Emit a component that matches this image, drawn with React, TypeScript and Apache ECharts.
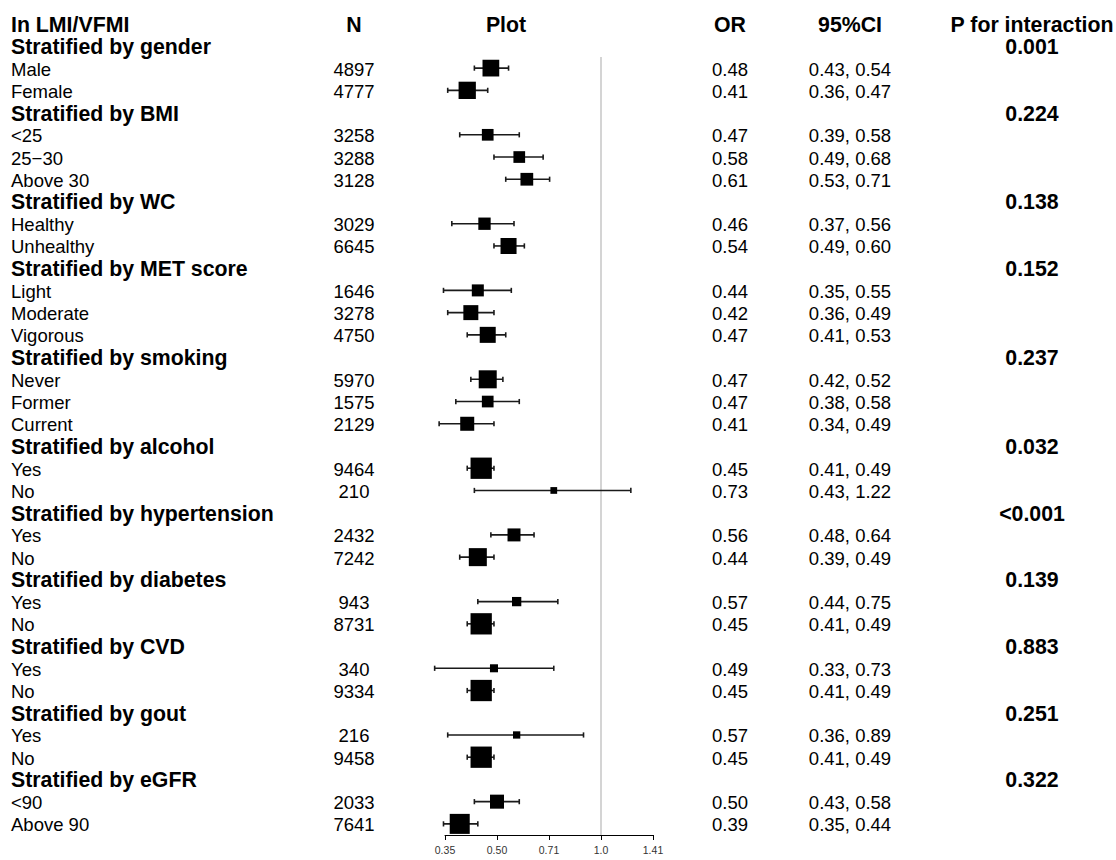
import React, { useEffect, useRef } from "react";
import * as echarts from "echarts";

// ---------- data ----------
const headerLabels = ["In LMI/VFMI", "N", "Plot", "OR", "95%CI", "P for interaction"];

const rowLabels = [
  "Stratified by gender", "Male", "Female",
  "Stratified by BMI", "<25", "25\u221230", "Above 30",
  "Stratified by WC", "Healthy", "Unhealthy",
  "Stratified by MET score", "Light", "Moderate", "Vigorous",
  "Stratified by smoking", "Never", "Former", "Current",
  "Stratified by alcohol", "Yes", "No",
  "Stratified by hypertension", "Yes", "No",
  "Stratified by diabetes", "Yes", "No",
  "Stratified by CVD", "Yes", "No",
  "Stratified by gout", "Yes", "No",
  "Stratified by eGFR", "<90", "Above 90",
];

const sampleN = [
  null, 4897, 4777,
  null, 3258, 3288, 3128,
  null, 3029, 6645,
  null, 1646, 3278, 4750,
  null, 5970, 1575, 2129,
  null, 9464, 210,
  null, 2432, 7242,
  null, 943, 8731,
  null, 340, 9334,
  null, 216, 9458,
  null, 2033, 7641,
];

const oddsRatio = [
  null, 0.48, 0.41,
  null, 0.47, 0.58, 0.61,
  null, 0.46, 0.54,
  null, 0.44, 0.42, 0.47,
  null, 0.47, 0.47, 0.41,
  null, 0.45, 0.73,
  null, 0.56, 0.44,
  null, 0.57, 0.45,
  null, 0.49, 0.45,
  null, 0.57, 0.45,
  null, 0.50, 0.39,
];

const ciLower = [
  null, 0.43, 0.36,
  null, 0.39, 0.49, 0.53,
  null, 0.37, 0.49,
  null, 0.35, 0.36, 0.41,
  null, 0.42, 0.38, 0.34,
  null, 0.41, 0.43,
  null, 0.48, 0.39,
  null, 0.44, 0.41,
  null, 0.33, 0.41,
  null, 0.36, 0.41,
  null, 0.43, 0.35,
];

const ciUpper = [
  null, 0.54, 0.47,
  null, 0.58, 0.68, 0.71,
  null, 0.56, 0.60,
  null, 0.55, 0.49, 0.53,
  null, 0.52, 0.58, 0.49,
  null, 0.49, 1.22,
  null, 0.64, 0.49,
  null, 0.75, 0.49,
  null, 0.73, 0.49,
  null, 0.89, 0.49,
  null, 0.58, 0.44,
];

// precision weight (approx. 1/SE) that sets the box size
const boxWeight = [
  null, 16.3, 17.0,
  null, 10.0, 10.0, 11.3,
  null, 10.8, 15.4,
  null, 10.4, 14.1, 15.4,
  null, 17.9, 10.0, 12.9,
  null, 22.0, 3.8,
  null, 11.6, 17.9,
  null, 7.0, 22.0,
  null, 5.4, 22.0,
  null, 4.5, 22.0,
  null, 12.9, 20.4,
];

const pInteraction = [
  "0.001", null, null,
  "0.224", null, null, null,
  "0.138", null, null,
  "0.152", null, null, null,
  "0.237", null, null, null,
  "0.032", null, null,
  "<0.001", null, null,
  "0.139", null, null,
  "0.883", null, null,
  "0.251", null, null,
  "0.322", null, null,
];

const axisTickLabels = ["0.35", "0.50", "0.71", "1.0", "1.41"];
const referenceOR = 1;

// ---------- layout ----------
const FONT = "'Liberation Sans', Arial, Helvetica, sans-serif";
const COL_LABEL = 11;
const COL_N = 354;
const COL_PLOT = 506;
const COL_OR = 730;
const COL_CI = 850;
const COL_P = 1032;
const REG = 18.5;
const BOLD = 21.3;
const TEXT_DY = 1;

const fmt2 = (v: number) => v.toFixed(2);

export default function App() {
  const ref = useRef<HTMLDivElement>(null);

  useEffect(() => {
    if (!ref.current) return;
    const chart = echarts.init(ref.current, null, { renderer: "svg" });

    const forestData: any[] = [];
    rowLabels.forEach((_, i) => {
      const or = oddsRatio[i];
      if (or == null) return;
      forestData.push([
        Math.log2(or),
        i,
        Math.log2(ciLower[i] as number),
        Math.log2(ciUpper[i] as number),
        boxWeight[i],
      ]);
    });

    const textData: any[] = [[0, -1]];
    rowLabels.forEach((_, i) => textData.push([0, i]));

    const txt = (
      text: string,
      x: number,
      y: number,
      align: string,
      bold: boolean
    ) => ({
      type: "text",
      x,
      y: y + TEXT_DY,
      style: {
        text,
        fill: "#000",
        fontFamily: FONT,
        fontSize: bold ? BOLD : REG,
        fontWeight: bold ? "bold" : "normal",
        align,
        verticalAlign: "middle",
      },
    });

    chart.setOption({
      animation: false,
      backgroundColor: "#fff",
      grid: { left: 445, right: 463, top: 57, bottom: 25, containLabel: false },
      xAxis: {
        type: "value",
        min: -1.5,
        max: 0.5,
        interval: 0.5,
        axisLine: { show: true, onZero: false, lineStyle: { color: "#000", width: 1 } },
        axisTick: { show: true, length: 5, lineStyle: { color: "#000", width: 1 } },
        splitLine: { show: false },
        axisLabel: {
          fontSize: 10.5,
          color: "#333",
          fontFamily: FONT,
          margin: 9,
          formatter: (v: number) => axisTickLabels[Math.round((v + 1.5) / 0.5)] ?? "",
        },
      },
      yAxis: {
        type: "value",
        inverse: true,
        min: 0.5,
        max: 35.5,
        show: false,
      },
      series: [
        {
          type: "custom",
          clip: false,
          data: forestData,
          encode: { x: [0, 2, 3], y: 1 },
          markLine: {
            silent: true,
            symbol: "none",
            label: { show: false },
            lineStyle: { color: "#d4d4d4", width: 2, type: "solid" },
            data: [{ xAxis: Math.log2(referenceOR) }],
            z: 1,
          },
          renderItem: (params: any, api: any) => {
            const row = api.value(1);
            const c = api.coord([api.value(0), row]);
            const xl = api.coord([api.value(2), row])[0];
            const xh = api.coord([api.value(3), row])[0];
            const y = c[1];
            const s = 3.7 + 0.8 * api.value(4);
            const ls = { stroke: "#1a1a1a", lineWidth: 1.6 };
            return {
              type: "group",
              children: [
                { type: "line", shape: { x1: xl, y1: y, x2: xh, y2: y }, style: ls },
                { type: "line", shape: { x1: xl, y1: y - 2.6, x2: xl, y2: y + 2.6 }, style: ls },
                { type: "line", shape: { x1: xh, y1: y - 2.6, x2: xh, y2: y + 2.6 }, style: ls },
                {
                  type: "rect",
                  shape: { x: c[0] - s / 2, y: y - s / 2, width: s, height: s },
                  style: { fill: "#000" },
                },
              ],
            };
          },
          z: 3,
        },
        {
          type: "custom",
          clip: false,
          silent: true,
          data: textData,
          encode: { x: 0, y: 1 },
          renderItem: (params: any, api: any) => {
            const row = api.value(1);
            const y = api.coord([0, row])[1];
            const children: any[] = [];
            if (row < 0) {
              children.push(txt(headerLabels[0], COL_LABEL, y, "left", true));
              children.push(txt(headerLabels[1], COL_N, y, "center", true));
              children.push(txt(headerLabels[2], COL_PLOT, y, "center", true));
              children.push(txt(headerLabels[3], COL_OR, y, "center", true));
              children.push(txt(headerLabels[4], COL_CI, y, "center", true));
              children.push(txt(headerLabels[5], COL_P, y, "center", true));
            } else {
              const isGroup = oddsRatio[row] == null;
              children.push(txt(rowLabels[row], COL_LABEL, y, "left", isGroup));
              if (!isGroup) {
                children.push(txt(String(sampleN[row]), COL_N, y, "center", false));
                children.push(txt(fmt2(oddsRatio[row] as number), COL_OR, y, "center", false));
                children.push(
                  txt(
                    fmt2(ciLower[row] as number) + ", " + fmt2(ciUpper[row] as number),
                    COL_CI,
                    y,
                    "center",
                    false
                  )
                );
              }
              const p = pInteraction[row];
              if (p) children.push(txt(p, COL_P, y, "center", true));
            }
            return { type: "group", children };
          },
          z: 5,
        },
      ],
    });

    return () => chart.dispose();
  }, []);

  return (
    <div
      ref={ref}
      style={{ position: "fixed", left: 0, top: 0, width: 1116, height: 860, background: "#fff" }}
    />
  );
}
